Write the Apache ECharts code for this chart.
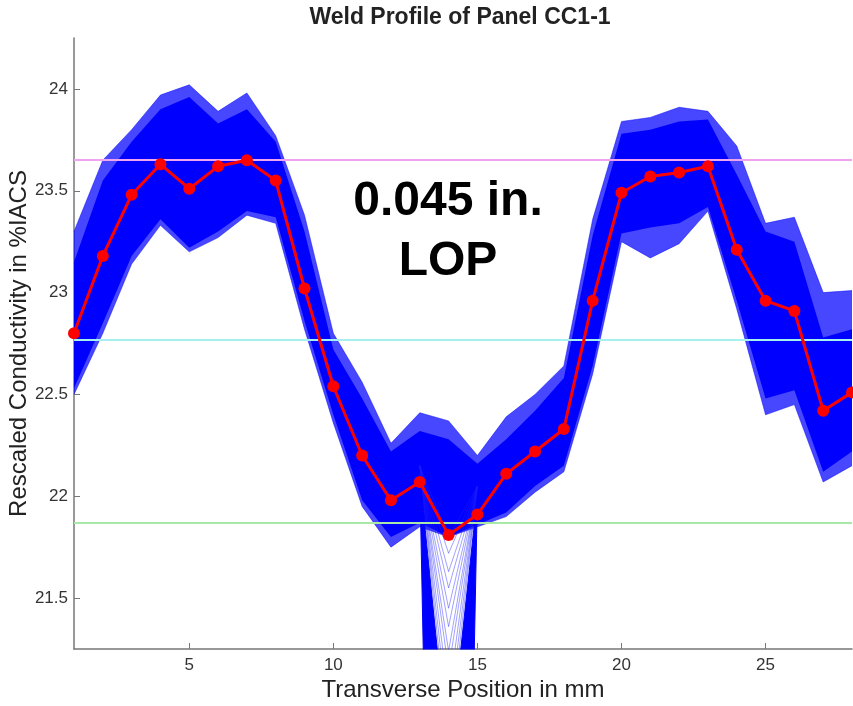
<!DOCTYPE html>
<html>
<head>
<meta charset="utf-8">
<title>Weld Profile of Panel CC1-1</title>
<script src="https://cdn.jsdelivr.net/npm/echarts@6/dist/echarts.min.js"></script>
<style>
html, body { margin: 0; padding: 0; background: #fff; }
#chartmain { width: 853px; height: 706px; }
</style>
</head>
<body>
<div id="chartmain"></div>
<script>
// transverse positions (mm)
var positions = ['1','2','3','4','5','6','7','8','9','10','11','12','13','14','15','16','17','18','19','20','21','22','23','24','25','26','27','28'];

// red mean profile
var meanProfile = [22.80, 23.18, 23.48, 23.63, 23.51, 23.62, 23.65, 23.55, 23.02, 22.54, 22.20, 21.98, 22.07, 21.81,
                   21.91, 22.11, 22.22, 22.33, 22.96, 23.49, 23.57, 23.59, 23.62, 23.21, 22.96, 22.91, 22.42, 22.51];

// envelope of all the blue profiles (sparse outer lines)
var outerHigh = [23.30, 23.65, 23.80, 23.97, 24.02, 23.89, 23.98, 23.77, 23.38, 22.80, 22.56, 22.26, 22.41, 22.37,
                 22.20, 22.39, 22.50, 22.64, 23.36, 23.84, 23.86, 23.91, 23.89, 23.72, 23.34, 23.37, 23.00, 23.01];
var outerLow  = [22.50, 22.80, 23.14, 23.33, 23.20, 23.27, 23.38, 23.34, 22.82, 22.36, 21.95, 21.75, 21.85, 21.80,
                 21.85, 21.90, 22.02, 22.12, 22.60, 23.25, 23.17, 23.24, 23.40, 22.92, 22.40, 22.45, 22.07, 22.15];
// dense core of the blue profiles
var coreHigh  = [23.15, 23.55, 23.74, 23.90, 23.96, 23.83, 23.90, 23.74, 23.30, 22.72, 22.48, 22.22, 22.32, 22.28,
                 22.16, 22.28, 22.42, 22.58, 23.28, 23.78, 23.80, 23.84, 23.85, 23.58, 23.30, 23.25, 22.78, 22.82];
var coreLow   = [22.53, 22.85, 23.18, 23.36, 23.22, 23.30, 23.40, 23.37, 22.86, 22.40, 21.98, 21.80, 21.87, 21.80,
                 21.86, 21.92, 22.05, 22.15, 22.64, 23.29, 23.32, 23.34, 23.42, 22.96, 22.48, 22.52, 22.12, 22.22];

// profiles that drop through the LOP at 14 mm
var dipPositions = [13, 14, 15];
var dipLow  = [22.10, 15.00, 22.00];
var dipHigh = [22.10, 20.70, 22.00];
var fanStart = 22.15, fanEnd = 22.05;
var fanDepths = [20.78, 20.9, 21.02, 21.15, 21.24, 21.36, 21.45, 21.55, 21.63, 21.72, 21.8];

// horizontal reference levels
var refLevels = [23.65, 22.77, 21.87];
var refColors = ['#f0a4f0', '#a6f0f0', '#a8e8a8'];

var yTicks = [21.5, 22, 22.5, 23, 23.5, 24];

function sparse(xs, ys) {
    var arr = positions.map(function () { return '-'; });
    xs.forEach(function (x, i) { arr[x - 1] = ys[i]; });
    return arr;
}
function diff(hi, lo) {
    return hi.map(function (v, i) {
        if (v === '-' || lo[i] === '-') return '-';
        return +(v - lo[i]).toFixed(3);
    });
}

var fontName = 'Liberation Sans, Arial, sans-serif';
var blue = '#0000ff';

var series = [
    {
        name: 'outerLow', type: 'line', stack: 'outer', data: outerLow, symbol: 'none', z: 2,
        lineStyle: {width: 0.8, color: 'rgba(0,0,255,0.6)'}
    },
    {
        name: 'outerBand', type: 'line', stack: 'outer', data: diff(outerHigh, outerLow), symbol: 'none', z: 2,
        lineStyle: {width: 0.8, color: 'rgba(0,0,255,0.6)'},
        areaStyle: {color: 'rgba(0,0,255,0.72)', opacity: 1}
    },
    {
        name: 'coreLow', type: 'line', stack: 'core', data: coreLow, symbol: 'none', z: 2,
        lineStyle: {width: 0}
    },
    {
        name: 'coreBand', type: 'line', stack: 'core', data: diff(coreHigh, coreLow), symbol: 'none', z: 2,
        lineStyle: {width: 0},
        areaStyle: {color: blue, opacity: 1}
    },
    {
        name: 'dipLow', type: 'line', stack: 'dip', data: sparse(dipPositions, dipLow), symbol: 'none', z: 2,
        lineStyle: {width: 1, color: blue}
    },
    {
        name: 'dipBand', type: 'line', stack: 'dip', data: sparse(dipPositions, diff(dipHigh, dipLow)), symbol: 'none', z: 2,
        lineStyle: {width: 1, color: blue},
        areaStyle: {color: blue, opacity: 1}
    }
];

fanDepths.forEach(function (d, i) {
    series.push({
        name: 'fan' + i, type: 'line', data: sparse(dipPositions, [fanStart, d, fanEnd]), symbol: 'none', z: 2,
        lineStyle: {width: 0.7, color: 'rgba(30,30,255,0.6)'}
    });
});

series.push({
    name: 'levels', type: 'line', data: [], z: 3,
    markLine: {
        silent: true, symbol: ['none', 'none'], animation: false,
        label: {show: false},
        data: refLevels.map(function (v, i) {
            return {yAxis: v, lineStyle: {color: refColors[i], width: 2, type: 'solid'}};
        })
    }
});

series.push({
    name: 'mean', type: 'line', data: meanProfile, z: 5,
    symbol: 'circle', symbolSize: 12,
    lineStyle: {width: 3, color: '#ff0000'},
    itemStyle: {color: '#ff0000'}
});

var myChart = echarts.init(document.getElementById('chartmain'));
var option = {
    animation: false,
    backgroundColor: '#fff',
    title: {
        text: 'Weld Profile of Panel CC1-1',
        left: 455, top: 1, textAlign: 'center',
        textStyle: {fontFamily: fontName, fontSize: 23, fontWeight: 'bold', color: '#222'}
    },
    grid: {left: 74, right: 1, top: 38, bottom: 57, containLabel: false, outerBoundsMode: 'none'},
    xAxis: {
        type: 'category',
        data: positions,
        boundaryGap: false,
        name: 'Transverse Position in mm',
        nameLocation: 'middle',
        nameGap: 29,
        nameMoveOverlap: false,
        nameTextStyle: {fontFamily: fontName, fontSize: 24, color: '#222'},
        axisLine: {lineStyle: {color: '#777', width: 1.5}},
        axisTick: {
            inside: true, length: 6, alignWithLabel: true,
            interval: function (idx, val) { return Number(val) % 5 === 0; },
            lineStyle: {color: '#777'}
        },
        axisLabel: {
            interval: function (idx, val) { return Number(val) % 5 === 0; },
            fontFamily: fontName, fontSize: 17, color: '#333', margin: 8
        },
        splitLine: {show: false}
    },
    yAxis: {
        type: 'value',
        min: 21.25,
        max: 24.25,
        name: 'Rescaled Conductivity in %IACS',
        nameLocation: 'middle',
        nameGap: 43,
        nameMoveOverlap: false,
        nameTextStyle: {fontFamily: fontName, fontSize: 24, color: '#222'},
        axisLine: {show: true, lineStyle: {color: '#777', width: 1.5}},
        axisTick: {show: true, inside: true, length: 6, customValues: yTicks, lineStyle: {color: '#777'}},
        axisLabel: {customValues: yTicks, fontFamily: fontName, fontSize: 17, color: '#333', margin: 6},
        splitLine: {show: false}
    },
    graphic: [
        {
            type: 'text', x: 448, y: 172, z: 10,
            style: {
                text: '0.045 in.\nLOP',
                textAlign: 'center', textVerticalAlign: 'top',
                font: 'bold 48px Liberation Sans, Arial, sans-serif',
                lineHeight: 60, fill: '#000'
            }
        }
    ],
    series: series
};
myChart.setOption(option);
</script>
</body>
</html>
